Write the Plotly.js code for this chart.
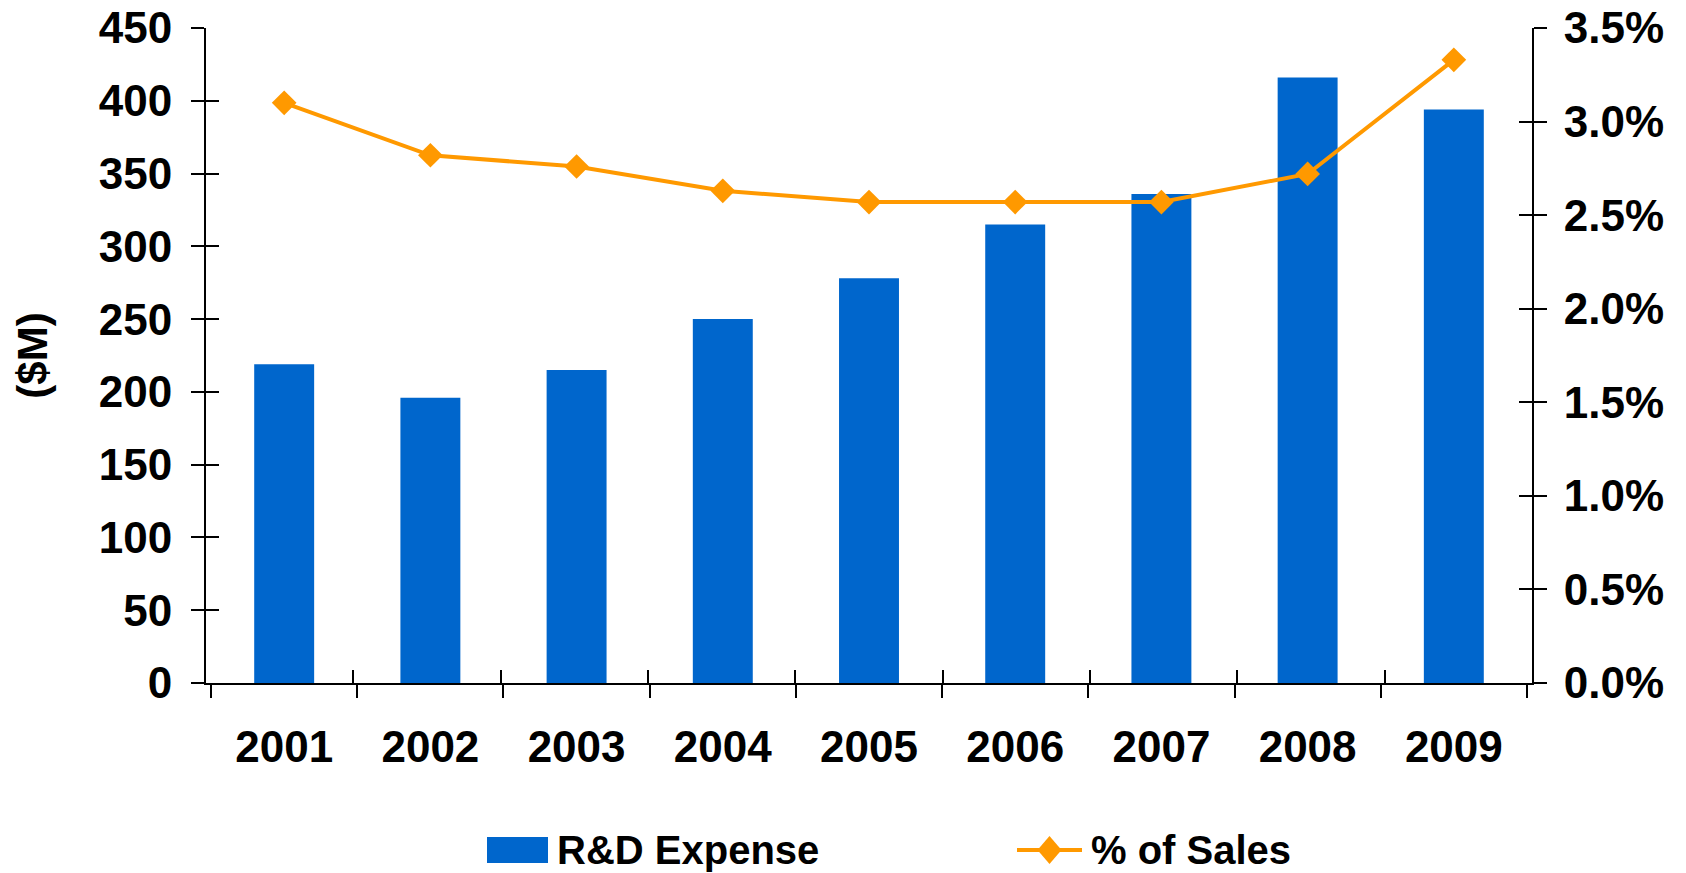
<!DOCTYPE html>
<html>
<head>
<meta charset="utf-8">
<script src="https://cdn.plot.ly/plotly-3.0.1.min.js"></script>
<style>html,body{margin:0;padding:0;background:#fff;}#chart{width:1686px;height:873px;}</style>
</head>
<body>
<div id="chart"></div>
<script>
// ---- data ----
const years = ['2001','2002','2003','2004','2005','2006','2007','2008','2009'];
const rdExpense = [219, 196, 215, 250, 278, 315, 336, 416, 394];
const pctOfSales = [0.0310, 0.0282, 0.0276, 0.0263, 0.0257, 0.0257, 0.0257, 0.0272, 0.0333];
const seriesNames = ['R&D Expense', '% of Sales'];
const yTitle = '($M)';

// ---- layout geometry ----
const W = 1686, H = 873;
const M = {l: 206, r: 154, t: 28, b: 190};
const pw = W - M.l - M.r, ph = H - M.t - M.b;
const px = x => (x - M.l) / pw;
const py = y => (H - M.b - y) / ph;

const FONT = 'Liberation Sans, Arial, Helvetica, sans-serif';
const BLUE = '#0066CC';
const ORANGE = '#FF9900';
const LEG_Y = 850;

const traces = [
  {type: 'bar', x: years, y: rdExpense, name: seriesNames[0],
   marker: {color: BLUE}, xaxis: 'x', yaxis: 'y', hoverinfo: 'x+y'},
  {type: 'scatter', mode: 'lines+markers', x: years, y: pctOfSales, name: seriesNames[1],
   line: {color: ORANGE, width: 4}, marker: {symbol: 'diamond', size: 19, color: ORANGE},
   xaxis: 'x', yaxis: 'y2'},
  // empty helper traces so the inside-tick overlay axes are drawn
  {type: 'scatter', x: [], y: [], xaxis: 'x2', yaxis: 'y3', showlegend: false, hoverinfo: 'skip'},
  {type: 'scatter', x: [], y: [], xaxis: 'x2', yaxis: 'y4', showlegend: false, hoverinfo: 'skip'}
];

const tickFont = {family: FONT, size: 44, color: '#000', weight: 700};

const layout = {
  width: W, height: H,
  margin: M,
  paper_bgcolor: '#fff', plot_bgcolor: '#fff',
  showlegend: false,
  bargap: 0.59,
  font: {family: FONT, color: '#000'},
  xaxis: {
    type: 'category', tickson: 'boundaries', ticks: 'outside', ticklen: 13, tickwidth: 2, tickcolor: '#000',
    showline: true, linecolor: '#000', linewidth: 2, showgrid: false, zeroline: false,
    tickfont: tickFont, ticklabelstandoff: 24, fixedrange: true
  },
  xaxis2: {
    overlaying: 'x', anchor: 'y', side: 'bottom', type: 'linear', range: [-0.5, 8.5],
    tick0: -0.5, dtick: 1, ticks: 'inside', ticklen: 13, tickwidth: 2, tickcolor: '#000',
    showticklabels: false, showline: false, showgrid: false, zeroline: false
  },
  yaxis: {
    range: [0, 450], dtick: 50, ticks: 'outside', ticklen: 13, tickwidth: 2, tickcolor: '#000',
    showline: true, linecolor: '#000', linewidth: 2, showgrid: false, zeroline: false,
    tickfont: tickFont, ticklabelstandoff: 10,
    title: {text: yTitle, font: {family: FONT, size: 42, color: '#000', weight: 700}, standoff: 38}
  },
  yaxis2: {
    overlaying: 'y', side: 'right', range: [0, 0.035], dtick: 0.005, tickformat: '.1%',
    ticks: 'outside', ticklen: 13, tickwidth: 2, tickcolor: '#000',
    showline: true, linecolor: '#000', linewidth: 2, showgrid: false, zeroline: false,
    tickfont: tickFont, ticklabelstandoff: 8
  },
  yaxis3: {
    overlaying: 'y', side: 'left', anchor: 'x', range: [0, 450], dtick: 50, ticks: 'inside', ticklen: 13,
    tickwidth: 2, tickcolor: '#000', showticklabels: false, showline: false, showgrid: false, zeroline: false
  },
  yaxis4: {
    overlaying: 'y', side: 'right', anchor: 'x', range: [0, 0.035], dtick: 0.005, ticks: 'inside', ticklen: 13,
    tickwidth: 2, tickcolor: '#000', showticklabels: false, showline: false, showgrid: false, zeroline: false
  },
  shapes: [
    // legend swatch for bars
    {type: 'rect', xref: 'paper', yref: 'paper', x0: px(487), x1: px(548), y0: py(LEG_Y + 13), y1: py(LEG_Y - 13),
     fillcolor: BLUE, line: {width: 0}},
    // legend line for % of Sales
    {type: 'line', xref: 'paper', yref: 'paper', x0: px(1017), x1: px(1082), y0: py(LEG_Y), y1: py(LEG_Y),
     line: {color: ORANGE, width: 4}},
    {type: 'path', xref: 'paper', yref: 'paper', xsizemode: 'pixel', ysizemode: 'pixel',
     xanchor: px(1049.5), yanchor: py(LEG_Y), path: 'M 0 -14 L 12 0 L 0 14 L -12 0 Z',
     fillcolor: ORANGE, line: {width: 0}}
  ],
  annotations: [
    {xref: 'paper', yref: 'paper', x: px(556), y: py(LEG_Y), xanchor: 'left', yanchor: 'middle', borderpad: 0,
     text: seriesNames[0], showarrow: false, font: {family: FONT, size: 40, color: '#000', weight: 700}},
    {xref: 'paper', yref: 'paper', x: px(1090), y: py(LEG_Y), xanchor: 'left', yanchor: 'middle', borderpad: 0,
     text: seriesNames[1], showarrow: false, font: {family: FONT, size: 40, color: '#000', weight: 700}}
  ]
};

Plotly.newPlot('chart', traces, layout, {displayModeBar: false, staticPlot: true});
</script>
</body>
</html>
